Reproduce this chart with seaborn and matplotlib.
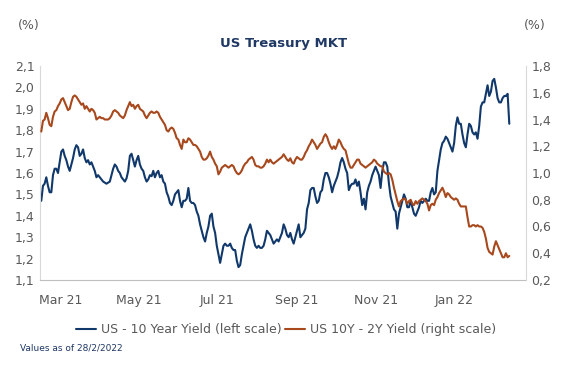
import matplotlib
matplotlib.use("Agg")
import matplotlib.pyplot as plt
import matplotlib.dates as mdates
from matplotlib.ticker import FuncFormatter
import seaborn as sns
import pandas as pd

# ---------------- data ----------------
us10y = [
    1.47, 1.54, 1.55, 1.58, 1.54, 1.51, 1.51, 1.59, 1.62, 1.62,
    1.60, 1.65, 1.70, 1.71, 1.68, 1.66, 1.63, 1.61, 1.64, 1.67,
    1.71, 1.73, 1.72, 1.68, 1.69, 1.71, 1.67, 1.65, 1.66, 1.64,
    1.65, 1.63, 1.61, 1.58, 1.59, 1.58, 1.57, 1.56, 1.555, 1.55,
    1.555, 1.56, 1.59, 1.62, 1.64, 1.63, 1.61, 1.60, 1.58, 1.57,
    1.56, 1.575, 1.61, 1.68, 1.69, 1.66, 1.63, 1.66, 1.68, 1.64,
    1.62, 1.61, 1.58, 1.56, 1.57, 1.59, 1.585, 1.61, 1.58, 1.60,
    1.61, 1.58, 1.59, 1.56, 1.55, 1.51, 1.49, 1.46, 1.45, 1.47,
    1.50, 1.51, 1.52, 1.47, 1.44, 1.47, 1.47, 1.48, 1.53, 1.47,
    1.46, 1.46, 1.45, 1.42, 1.40, 1.36, 1.33, 1.30, 1.28, 1.32,
    1.35, 1.40, 1.41, 1.35, 1.32, 1.26, 1.22, 1.18, 1.22, 1.26,
    1.27, 1.26, 1.26, 1.27, 1.25, 1.24, 1.24, 1.19, 1.16, 1.17,
    1.22, 1.26, 1.30, 1.32, 1.34, 1.36, 1.33, 1.29, 1.26, 1.25,
    1.26, 1.25, 1.25, 1.26, 1.29, 1.33, 1.32,
    1.31, 1.29, 1.27, 1.28, 1.29, 1.28, 1.30, 1.32, 1.36, 1.34,
    1.31, 1.30, 1.32, 1.29, 1.27, 1.30, 1.33, 1.36, 1.30, 1.31,
    1.32, 1.34, 1.43, 1.46, 1.52, 1.53, 1.53, 1.49, 1.46, 1.47,
    1.51, 1.52, 1.57, 1.60, 1.60, 1.58, 1.55, 1.51, 1.54, 1.56,
    1.58, 1.61, 1.65, 1.67, 1.65, 1.62, 1.60, 1.52, 1.54, 1.55,
    1.55, 1.57, 1.54, 1.56, 1.51, 1.45, 1.48, 1.43, 1.51, 1.54,
    1.56, 1.59, 1.61, 1.63, 1.61, 1.59, 1.53, 1.61, 1.65, 1.65,
    1.63, 1.55, 1.49, 1.46, 1.43, 1.42, 1.34, 1.41, 1.44, 1.47,
    1.50, 1.48, 1.44, 1.44, 1.47, 1.44, 1.41, 1.40, 1.42, 1.44,
    1.47, 1.46, 1.47, 1.48, 1.47, 1.47, 1.51, 1.53, 1.50, 1.51,
    1.61, 1.66, 1.71, 1.74, 1.75, 1.77, 1.76, 1.74, 1.72, 1.70,
    1.74, 1.82, 1.86, 1.83, 1.83, 1.78, 1.74, 1.72, 1.78, 1.83,
    1.82, 1.79, 1.78, 1.79, 1.76, 1.82, 1.91, 1.93, 1.93, 1.97,
    2.01, 1.96, 1.98, 2.03, 2.04, 2.00, 1.95, 1.93, 1.93, 1.95,
    1.96, 1.96, 1.97, 1.83,
]

spread_10y2y = [
    1.31, 1.39, 1.40, 1.45, 1.41, 1.36, 1.35, 1.42, 1.46, 1.47,
    1.50, 1.52, 1.55, 1.56, 1.53, 1.50, 1.47, 1.48, 1.53, 1.57,
    1.58, 1.57, 1.55, 1.53, 1.51, 1.52, 1.48, 1.50, 1.48, 1.46,
    1.48, 1.47, 1.45, 1.40, 1.41, 1.42, 1.41, 1.41, 1.40, 1.40,
    1.40, 1.41, 1.43, 1.46, 1.47, 1.46, 1.45, 1.43, 1.42, 1.41,
    1.43, 1.47, 1.50, 1.53, 1.50, 1.51, 1.48, 1.50, 1.51, 1.48,
    1.47, 1.46, 1.43, 1.41, 1.43, 1.45, 1.46, 1.45, 1.45, 1.46,
    1.45, 1.42, 1.40, 1.38, 1.36, 1.32, 1.31, 1.33, 1.34, 1.33,
    1.30, 1.26, 1.25, 1.21, 1.18, 1.25, 1.23, 1.23, 1.26, 1.25,
    1.23, 1.21, 1.21, 1.20, 1.18, 1.16, 1.12, 1.10, 1.10, 1.11,
    1.13, 1.16, 1.12, 1.10, 1.07, 1.05, 0.99, 1.01, 1.04, 1.05,
    1.06, 1.05, 1.04, 1.05, 1.06, 1.05, 1.02, 1.00, 0.99, 1.00,
    1.02, 1.05, 1.07, 1.08, 1.10, 1.11, 1.12, 1.10, 1.06, 1.05,
    1.05, 1.04, 1.04, 1.05, 1.07, 1.10, 1.08,
    1.10, 1.08, 1.07, 1.08, 1.09, 1.10, 1.11, 1.12, 1.14, 1.12,
    1.10, 1.09, 1.11, 1.08, 1.07, 1.10, 1.12, 1.11, 1.10, 1.10,
    1.12, 1.15, 1.17, 1.20, 1.22, 1.25, 1.23, 1.21, 1.18, 1.20,
    1.22, 1.23, 1.27, 1.29, 1.27, 1.23, 1.20, 1.18, 1.20, 1.18,
    1.21, 1.25, 1.23, 1.20, 1.18, 1.17, 1.12, 1.07, 1.04, 1.04,
    1.06, 1.08, 1.10, 1.10, 1.07, 1.06, 1.05, 1.04, 1.05, 1.06,
    1.07, 1.08, 1.10, 1.09, 1.07, 1.06, 1.05, 1.05, 1.01, 1.00,
    0.99, 1.00, 0.99, 0.95, 0.89, 0.84, 0.79, 0.75, 0.79, 0.80,
    0.81, 0.80, 0.77, 0.79, 0.80, 0.77, 0.76, 0.79, 0.77, 0.79,
    0.80, 0.81, 0.80, 0.79, 0.77, 0.72, 0.76, 0.77, 0.76, 0.80,
    0.82, 0.85, 0.87, 0.89, 0.86, 0.82, 0.85, 0.84, 0.82, 0.81,
    0.80, 0.81, 0.80, 0.77, 0.75, 0.75, 0.75, 0.75, 0.67, 0.60,
    0.60, 0.61, 0.61, 0.60, 0.61, 0.60, 0.60, 0.59, 0.56, 0.51,
    0.44, 0.41, 0.40, 0.39, 0.45, 0.49, 0.46, 0.43, 0.40, 0.37,
    0.37, 0.40, 0.37, 0.38,
]

start_date = "2021-03-01"
end_date = "2022-02-28"
left_ticks = [1.1, 1.2, 1.3, 1.4, 1.5, 1.6, 1.7, 1.8, 1.9, 2.0, 2.1]
right_ticks = [0.2, 0.4, 0.6, 0.8, 1.0, 1.2, 1.4, 1.6, 1.8]
label_months = [1, 3, 5, 7, 9, 11]
series_names = ["US - 10 Year Yield (left scale)", "US 10Y - 2Y Yield (right scale)"]
title = "US Treasury MKT"
unit = "(%)"
footnote = "Values as of 28/2/2022"

dates = pd.date_range(start_date, end_date, periods=len(us10y))
df = pd.DataFrame({"date": dates, "us10y": us10y, "spread": spread_10y2y})

# ---------------- style ----------------
sns.set_theme(style="white")
plt.rcParams["font.family"] = ["DejaVu Sans"]
BLUE = "#10386B"
ORANGE = "#A7481D"
TXT = "#595959"
NAVY = "#1F3864"
GRID = "#D9D9D9"

W, H = 581, 365
fig = plt.figure(figsize=(W / 100, H / 100), dpi=100)
L, R, T, B = 40, 526, 66, 280
ax = fig.add_axes([L / W, 1 - B / H, (R - L) / W, (B - T) / H])
ax2 = ax.twinx()

sns.lineplot(data=df, x="date", y="us10y", ax=ax, color=BLUE, linewidth=1.5, legend=False)
sns.lineplot(data=df, x="date", y="spread", ax=ax2, color=ORANGE, linewidth=1.5, legend=False)

ax.set_xlim(pd.Timestamp("2021-02-28"), pd.Timestamp("2022-03-13"))
ax.set_ylim(left_ticks[0], left_ticks[-1])
ax2.set_ylim(right_ticks[0], right_ticks[-1])
ax.set_yticks(left_ticks)
ax2.set_yticks(right_ticks)
fmt = FuncFormatter(lambda v, p: f"{v:.1f}".replace(".", ","))
ax.yaxis.set_major_formatter(fmt)
ax2.yaxis.set_major_formatter(fmt)

ax.xaxis.set_major_locator(mdates.MonthLocator(bymonthday=1))
ax.xaxis.set_major_formatter(plt.NullFormatter())
ax.xaxis.set_minor_locator(mdates.MonthLocator(bymonth=label_months, bymonthday=16))
ax.xaxis.set_minor_formatter(mdates.DateFormatter("%b %y"))
ax.tick_params(axis="x", which="major", length=4, width=0.8, color="#BFBFBF", direction="out")
ax.tick_params(axis="x", which="minor", length=0, pad=10, labelsize=9, labelcolor=TXT)
ax.tick_params(axis="y", length=0, pad=4, labelsize=9, labelcolor=TXT)
ax2.tick_params(axis="y", length=0, pad=4, labelsize=9, labelcolor=TXT)

for a in (ax, ax2):
    a.set_xlabel("")
    a.set_ylabel("")
    a.grid(False)
    for s in a.spines.values():
        s.set_visible(False)
ax.spines["left"].set_visible(True)
ax.spines["left"].set_color(GRID)
ax.spines["bottom"].set_visible(True)
ax.spines["bottom"].set_color("#BFBFBF")
ax2.spines["right"].set_visible(True)
ax2.spines["right"].set_color(GRID)
for s in ("left", "bottom"):
    ax.spines[s].set_linewidth(0.8)
ax2.spines["right"].set_linewidth(0.8)

fig.text(284 / W, 1 - 44 / H, title, ha="center", va="center", fontsize=9.5,
         fontweight="bold", color=NAVY)
fig.text(18 / W, 1 - 25 / H, unit, ha="left", va="center", fontsize=9, color=TXT)
fig.text(524 / W, 1 - 25 / H, unit, ha="left", va="center", fontsize=9, color=TXT)
fig.text(20 / W, 1 - 348 / H, footnote, ha="left", va="center", fontsize=6.5, color=NAVY)

handles = [ax.get_lines()[0], ax2.get_lines()[0]]
fig.legend(handles, series_names, loc="center", bbox_to_anchor=(286 / W, 1 - 330 / H),
           ncol=2, frameon=False, fontsize=9, labelcolor=TXT, handlelength=1.6,
           handletextpad=0.4, columnspacing=0.2, borderpad=0)

fig.savefig("out.png", dpi=100)
